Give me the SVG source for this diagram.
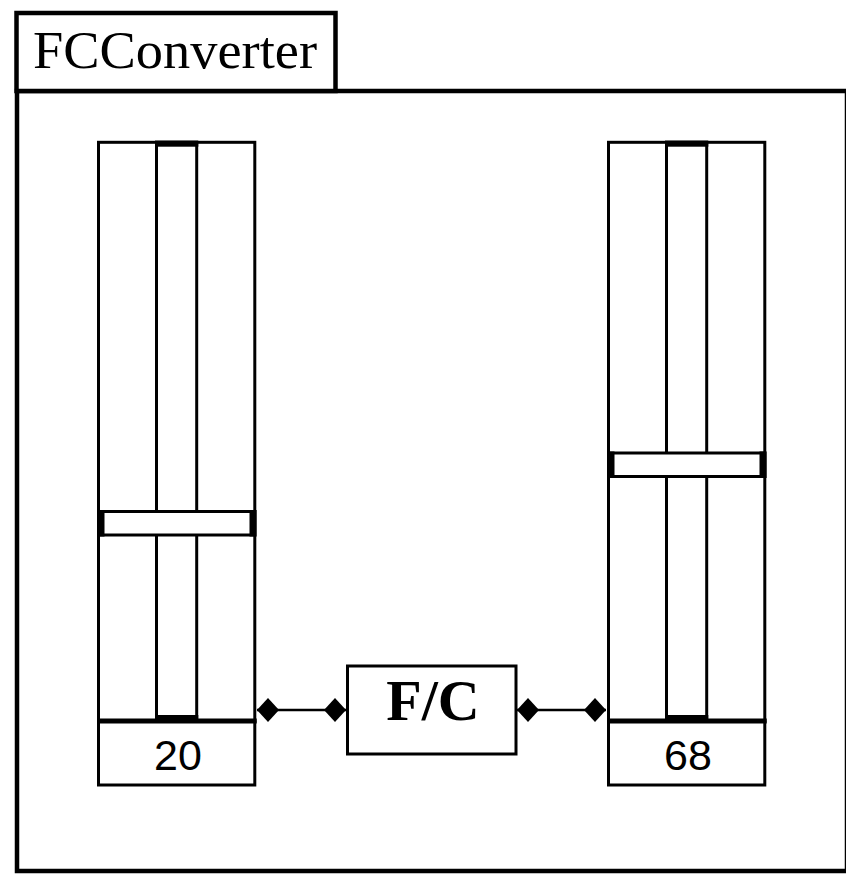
<svg xmlns="http://www.w3.org/2000/svg" width="846" height="876" viewBox="0 0 846 876">
<style>
.ln{fill:#fff;stroke:#000;stroke-width:3}
.blk{fill:#000}
.val{font-family:"Liberation Sans",Arial,sans-serif;font-size:43px;fill:#000;text-anchor:middle}
</style>
<defs>
<marker id="dia" markerWidth="24" markerHeight="26" refX="23" refY="13" markerUnits="userSpaceOnUse" orient="auto-start-reverse">
<path d="M1,13 L12,1 L23,13 L12,25 Z" fill="#000"/>
</marker>
</defs>
<rect width="846" height="876" fill="#fff"/>
<g id="window">
<rect x="17" y="91" width="830" height="780" fill="#fff" stroke="#000" stroke-width="4.5"/>
<rect x="16.5" y="13" width="319" height="78" fill="#fff" stroke="#000" stroke-width="4.5"/>
<text x="33" y="68" font-family="'Liberation Serif','Times New Roman',serif" font-size="52" textLength="284" lengthAdjust="spacingAndGlyphs" fill="#000">FCConverter</text>
</g>
<g id="sliderF">
<rect class="ln" x="98.5" y="142.3" width="156.3" height="578.7"/>
<rect class="ln" x="156.5" y="142.3" width="40.2" height="578.7"/>
<rect class="blk" x="155" y="140.7" width="43.3" height="6"/>
<rect class="blk" x="155" y="715" width="43.3" height="8"/>
<rect class="blk" x="97" y="718.5" width="159.7" height="5"/>
<rect class="ln" x="98.5" y="511.5" width="156.3" height="23.5"/>
<rect class="blk" x="97.5" y="510" width="7" height="26.5"/>
<rect class="blk" x="249.5" y="510" width="7" height="26.5"/>
<rect class="ln" x="98.5" y="722" width="156.3" height="63"/>
<text class="val" x="178" y="770">20</text>
</g>
<g id="sliderC">
<rect class="ln" x="608.5" y="142.3" width="156.3" height="578.7"/>
<rect class="ln" x="666.5" y="142.3" width="40.2" height="578.7"/>
<rect class="blk" x="665" y="140.7" width="43.3" height="6"/>
<rect class="blk" x="665" y="715" width="43.3" height="8"/>
<rect class="blk" x="607" y="718.5" width="159.7" height="5"/>
<rect class="ln" x="608.5" y="453" width="156.3" height="23.5"/>
<rect class="blk" x="607.5" y="451.5" width="7" height="26.5"/>
<rect class="blk" x="759.5" y="451.5" width="7" height="26.5"/>
<rect class="ln" x="608.5" y="722" width="156.3" height="63"/>
<text class="val" x="688" y="770">68</text>
</g>
<g id="fc">
<rect class="ln" x="347.5" y="666" width="168.5" height="88"/>
<text x="433" y="720" font-family="'Liberation Serif','Times New Roman',serif" font-weight="bold" font-size="58" text-anchor="middle" fill="#000">F/C</text>
</g>
<g id="connectors" stroke="#000" stroke-width="2.5">
<line x1="257" y1="710" x2="346" y2="710" marker-start="url(#dia)" marker-end="url(#dia)"/>
<line x1="517" y1="710" x2="606" y2="710" marker-start="url(#dia)" marker-end="url(#dia)"/>
</g>
</svg>
